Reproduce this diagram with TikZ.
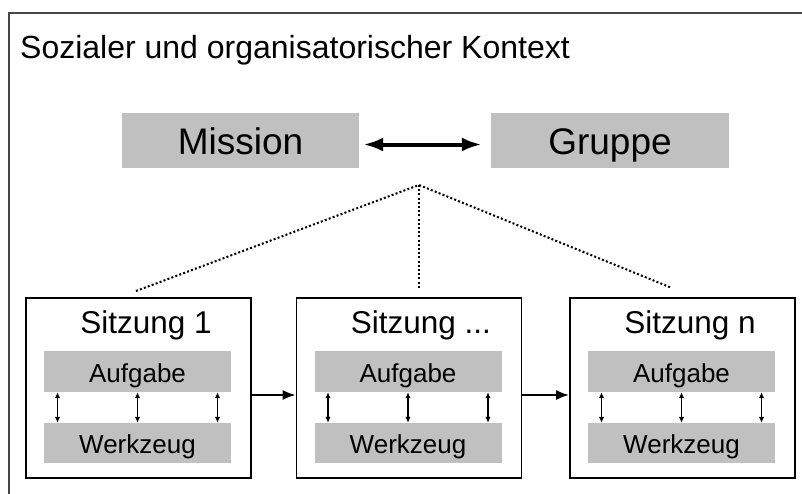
\documentclass[tikz,border=0pt]{standalone}
\usepackage{fontspec}
\setmainfont{Liberation Sans}
\usetikzlibrary{arrows.meta,positioning,calc}
\definecolor{kastengrau}{RGB}{192,192,192}
\definecolor{rahmengrau}{RGB}{70,70,70}
\newcommand{\dreipunkte}{...}
\tikzset{
  kasten/.style={fill=kastengrau,inner sep=0pt},
  gross/.style={kasten,minimum height=55pt,text height=34pt,text depth=7pt,font=\fontsize{37}{40}\selectfont},
  sitz/.style={draw,line width=1.6pt,fill=white,minimum width=225pt,minimum height=180pt,inner sep=0pt},
  innen/.style={kasten,minimum width=187pt,text height=26pt,text depth=5pt,font=\fontsize{26}{30}\selectfont},
  dick/.style={{Latex[length=20pt,width=14pt]}-{Latex[length=20pt,width=14pt]},line width=4pt},
  nyil/.style={-{Latex[length=13pt,width=10pt]},line width=2.2pt},
  klein/.style={{Latex[length=6pt,width=5.5pt]}-{Latex[length=6pt,width=5.5pt]},line width=1.4pt},
  punkt/.style={dash pattern=on 2pt off 2.2pt,line width=2pt},
}

\begin{document}
\begin{tikzpicture}[x=1pt,y=-1pt]
  \useasboundingbox (0,0) rectangle (802,493);
  \draw[rahmengrau,line width=1.8pt] (9,495) -- (9,13) -- (804,13);
  \node[anchor=base west,inner sep=0pt,font=\fontsize{32}{36}\selectfont] (kontext) at (20,58)
    {Sozialer und organisatorischer Kontext};
  % obere Ebene
  \node[gross,minimum width=237pt] (mission) at (240.5,140.5) {Mission};
  \node[gross,minimum width=238pt] (gruppe) at (610,140.5) {Gruppe};
  \draw[dick,shorten <=4pt,shorten >=9pt] ([yshift=-4pt]mission.east) -- ([yshift=-4pt]gruppe.west);
  % Sitzungen
  \foreach \i/\xm/\lab in {1/138.5/Sitzung 1, 2/409/Sitzung \dreipunkte, 3/682.5/Sitzung n}{
    \node[sitz] (s\i) at (\xm,388) {};
    \node[anchor=base west,inner sep=0pt,font=\fontsize{31.5}{35}\selectfont] (t\i) at ($(s\i.west)+(55,-55)$) {\lab};
    \node[innen,minimum height=41pt] (a\i) at ($(s\i.center)+(-1,-16.5)$) {Aufgabe};
    \node[innen,minimum height=40pt] (w\i) at ($(s\i.center)+(-1,55)$) {Werkzeug};
    \foreach \dx in {-80,0,80}
      \draw[klein] ([xshift=\dx pt]a\i.south) -- ([xshift=\dx pt]w\i.north);
  }
  \draw[nyil] ([yshift=-7pt]s1.east) -- ([yshift=-7pt]s2.west);
  \draw[nyil] ([yshift=-7pt]s2.east) -- ([yshift=-7pt]s3.west);
  % gepunktete Linien
  \coordinate (spitze) at (419,185);
  \coordinate (e1) at (136,291);
  \coordinate (e2) at (419,288);
  \coordinate (e3) at (672,288);
  \draw[punkt] (e1) -- (spitze) -- (e3);
  \draw[punkt] (spitze) -- (e2);
\end{tikzpicture}
\end{document}
